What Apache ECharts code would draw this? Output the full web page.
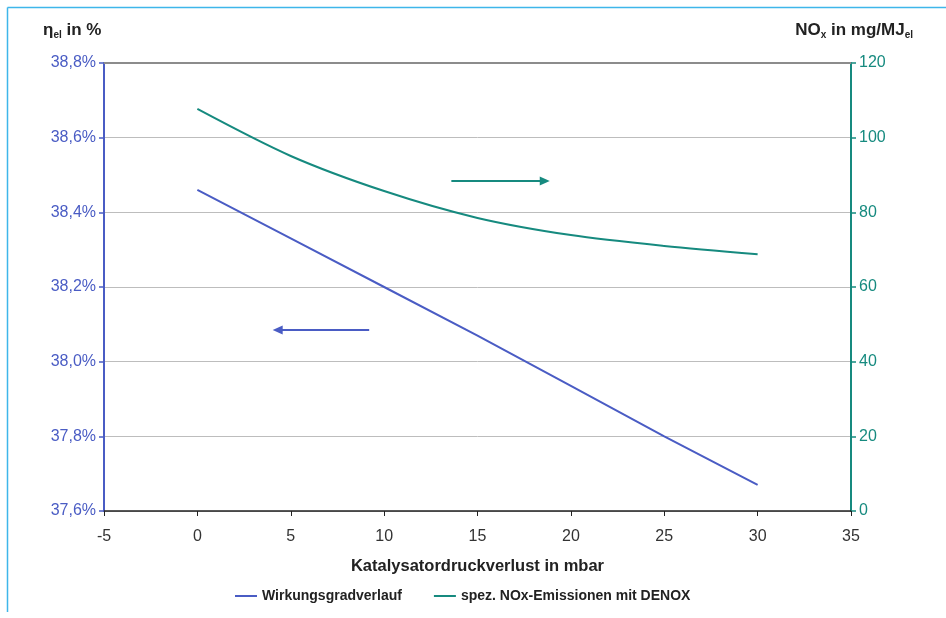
<!DOCTYPE html>
<html>
<head>
<meta charset="utf-8">
<script src="https://cdn.jsdelivr.net/npm/echarts@6/dist/echarts.min.js"></script>
<style>html,body{margin:0;padding:0;background:#fff}#c{width:946px;height:618px}</style>
</head>
<body>
<div id="c"></div>
<script>
const xValues = [0, 5, 10, 15, 20, 25, 30];
const efficiency = [38.46, 38.33, 38.20, 38.07, 37.935, 37.80, 37.67];
const noxEmission = [107.7, 95.1, 85.7, 78.5, 73.9, 71.0, 68.8];
const seriesNames = ['Wirkungsgradverlauf', 'spez. NOx-Emissionen mit DENOX'];
const noxArrow = [[13.6, 88.4], [18.6, 88.4]];
const effArrow = [[9.2, 38.085], [4.3, 38.085]];

const blue = '#4a5cc4';
const teal = '#168a7f';
const font = 'Liberation Sans, Arial, sans-serif';

const titleRich = {
  a: { fontSize: 17, fontWeight: 'bold', fill: '#222', fontFamily: font },
  s: { fontSize: 10, fontWeight: 'bold', fill: '#222', fontFamily: font, padding: [9, 0, 0, 0] }
};

const chart = echarts.init(document.getElementById('c'));
chart.setOption({
  animation: false,
  textStyle: { fontFamily: font },
  graphic: [
    { type: 'line', shape: { x1: 7.5, y1: 7.5, x2: 946, y2: 7.5 }, style: { stroke: '#3fb6ea', lineWidth: 1.5 } },
    { type: 'line', shape: { x1: 7.5, y1: 7.5, x2: 7.5, y2: 612 }, style: { stroke: '#3fb6ea', lineWidth: 1.5 } },
    { type: 'text', left: 43, top: 22, style: { text: '{a|η}{s|el}{a| in %}', rich: titleRich } },
    { type: 'text', right: 33, top: 22, style: { text: '{a|NO}{s|x}{a| in mg/MJ}{s|el}', rich: titleRich } }
  ],
  grid: { left: 104, right: 95, top: 63, bottom: 107, containLabel: false },
  legend: {
    bottom: 10, left: 230, itemGap: 32, itemWidth: 22, itemHeight: 2,
    icon: 'rect',
    textStyle: { fontSize: 14, fontWeight: 'bold', color: '#222', fontFamily: font },
    data: seriesNames
  },
  xAxis: [{
    type: 'value', min: -5, max: 35, interval: 5,
    name: 'Katalysatordruckverlust in mbar', nameLocation: 'middle', nameGap: 47,
    nameMoveOverlap: false,
    nameTextStyle: { fontSize: 16.5, fontWeight: 'bold', color: '#222', fontFamily: font },
    axisLine: { onZero: false, lineStyle: { color: '#222', width: 1.5 } },
    axisTick: { show: true, length: 5, lineStyle: { color: '#222' } },
    axisLabel: { fontSize: 16, color: '#333', margin: 18 },
    splitLine: { show: false }
  }, {
    type: 'value', min: -5, max: 35, position: 'top',
    axisLine: { show: true, onZero: false, lineStyle: { color: '#8c8c8c', width: 2 } },
    axisTick: { show: false }, axisLabel: { show: false }, splitLine: { show: false }
  }],
  yAxis: [{
    type: 'value', min: 37.6, max: 38.8, interval: 0.2, position: 'left',
    axisLine: { show: true, onZero: false, lineStyle: { color: blue, width: 2 } },
    axisTick: { show: true, length: 5, lineStyle: { color: blue, width: 1.5 } },
    axisLabel: { fontSize: 16, color: blue, margin: 8, formatter: v => v.toFixed(1).replace('.', ',') + '%' },
    splitLine: { show: true, lineStyle: { color: '#bdbdbd', width: 1 } }
  }, {
    type: 'value', min: 0, max: 120, interval: 20, position: 'right',
    axisLine: { show: true, onZero: false, lineStyle: { color: teal, width: 2 } },
    axisTick: { show: true, length: 5, lineStyle: { color: teal, width: 1.5 } },
    axisLabel: { fontSize: 16, color: teal, margin: 8 },
    splitLine: { show: false }
  }],
  series: [{
    name: seriesNames[0], type: 'line', yAxisIndex: 0, showSymbol: false, symbol: 'none',
    data: xValues.map((x, i) => [x, efficiency[i]]),
    lineStyle: { color: blue, width: 2 }, itemStyle: { color: blue },
    markLine: {
      silent: true, symbol: ['none', 'triangle'], symbolSize: [9, 10], label: { show: false },
      lineStyle: { color: blue, width: 2, type: 'solid' },
      data: [[{ coord: effArrow[0] }, { coord: effArrow[1] }]]
    }
  }, {
    name: seriesNames[1], type: 'line', yAxisIndex: 1, showSymbol: false, symbol: 'none', smooth: 0.3,
    data: xValues.map((x, i) => [x, noxEmission[i]]),
    lineStyle: { color: teal, width: 2 }, itemStyle: { color: teal },
    markLine: {
      silent: true, symbol: ['none', 'triangle'], symbolSize: [9, 10], label: { show: false },
      lineStyle: { color: teal, width: 2, type: 'solid' },
      data: [[{ coord: noxArrow[0] }, { coord: noxArrow[1] }]]
    }
  }]
});
</script>
</body>
</html>
